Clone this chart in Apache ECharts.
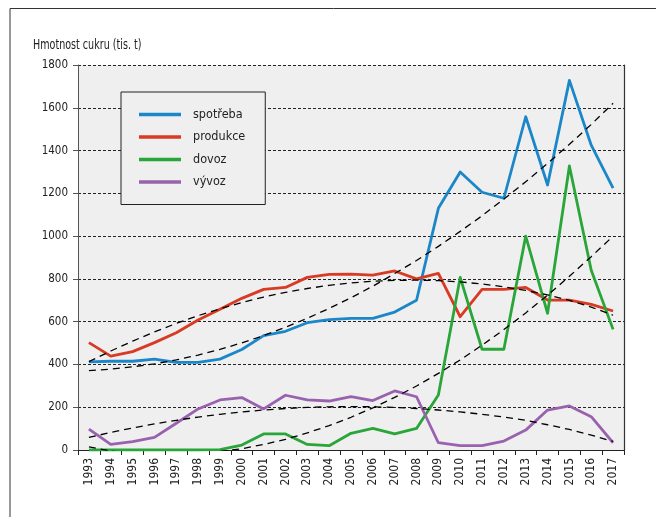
<!DOCTYPE html>
<html>
<head>
<meta charset="utf-8">
<script src="https://cdn.jsdelivr.net/npm/echarts@6/dist/echarts.min.js"></script>
<style>
html,body{margin:0;padding:0;background:#fff;}
#chart{width:656px;height:517px;}
</style>
</head>
<body>
<div id="chart"></div>
<script>
// ---- data ----
const years = ['1993','1994','1995','1996','1997','1998','1999','2000','2001','2002','2003','2004','2005','2006','2007','2008','2009','2010','2011','2012','2013','2014','2015','2016','2017'];
const yTicks = [0,200,400,600,800,1000,1200,1400,1600,1800];
const seriesNames = ['spotřeba','produkce','dovoz','vývoz'];
const spotreba = [412,415,415,425,410,410,425,470,535,555,595,610,615,615,645,700,1130,1300,1205,1177,1558,1239,1728,1425,1224];
const produkce = [502,439,460,502,548,608,658,709,751,760,807,821,822,818,837,800,826,623,751,751,760,701,701,681,650];
const dovoz = [0,0,0,0,0,0,2,23,75,75,26,20,78,101,75,101,257,807,471,471,1000,639,1328,840,564];
const vyvoz = [98,26,39,59,125,192,234,245,192,256,234,229,249,231,276,249,34,20,20,42,93,187,206,156,34];
// trend lines
const spotrebaTrend = [371,378,389,403,421,444,470,501,535,574,616,662,712,766,825,886,952,1022,1095,1173,1254,1340,1429,1522,1621];
const produkceTrend = [413,463,509,552,592,628,660,689,715,737,755,770,781,789,793,794,792,786,776,763,746,725,700,668,630];
const dovozTrend = [15,-5,-16,-21,-21,-16,-7,6,26,50,80,114,153,197,246,299,358,421,490,563,641,724,812,904,1000];
const vyvozTrend = [59,82,103,122,139,154,167,178,187,194,199,202,203,202,199,194,187,178,167,154,139,118,96,70,40];
const yTitle = 'Hmotnost cukru (tis. t)';

const colors = ['#1b87c9','#d93a23','#2aa53a','#9a62ae'];
const FONT = '"DejaVu Sans Condensed","Liberation Sans",sans-serif';

const chart = echarts.init(document.getElementById('chart'), null, {renderer:'canvas'});

function mainLine(name, data, color){
  return {name, type:'line', data, symbol:'none', z:3,
    lineStyle:{color, width:2.8, join:'round'}, itemStyle:{color}};
}
function trendLine(data){
  return {type:'line', data, symbol:'none', z:4, silent:true,
    lineStyle:{color:'#000', width:1.3, type:[7,5]}};
}

chart.setOption({
  animation:false,
  textStyle:{fontFamily:FONT},
  graphic:[
    {type:'rect', shape:{x:10, y:8.5, width:800, height:700}, style:{fill:null, stroke:'#333', lineWidth:1}, z:-10},
    {type:'text', x:33, y:38, scaleX:0.76, style:{text:yTitle, font:'14px '+FONT, fill:'#222', align:'left', verticalAlign:'top'}}
  ],
  grid:{left:78, top:65, right:32, bottom:67, show:true, backgroundColor:'#eeefee', borderWidth:0},
  legend:{
    data:seriesNames, orient:'vertical', left:121, top:92, icon:'rect',
    backgroundColor:'#eeefee', borderColor:'#222', borderWidth:1,
    padding:[15,20,15,18], itemWidth:42, itemHeight:3.5, itemGap:7.5,
    textStyle:{fontFamily:FONT, fontSize:12.5, color:'#222', padding:[0,0,0,7], lineHeight:15}
  },
  xAxis:{
    type:'category', data:years, boundaryGap:true,
    axisLine:{lineStyle:{color:'#222'}},
    axisTick:{show:true, length:5, lineStyle:{color:'#222'}},
    axisLabel:{rotate:90, fontSize:12, color:'#222', margin:8, interval:0, fontFamily:FONT},
    splitLine:{show:false}
  },
  yAxis:[{
    type:'value', min:yTicks[0], max:yTicks[yTicks.length-1], interval:200,
    axisLine:{show:true, lineStyle:{color:'#555'}},
    axisTick:{show:true, length:5, lineStyle:{color:'#555'}},
    axisLabel:{fontSize:11.5, color:'#222', margin:10, fontFamily:FONT, formatter:v=>String(v)},
    splitLine:{show:true, lineStyle:{color:'#222', type:[3,2], width:1}}
  },{
    type:'value', min:yTicks[0], max:yTicks[yTicks.length-1], interval:200, position:'right',
    axisLine:{show:true, lineStyle:{color:'#333', width:1.2}},
    axisTick:{show:false}, axisLabel:{show:false}, splitLine:{show:false}
  }],
  series:[
    mainLine(seriesNames[0], spotreba, colors[0]),
    mainLine(seriesNames[1], produkce, colors[1]),
    mainLine(seriesNames[2], dovoz, colors[2]),
    mainLine(seriesNames[3], vyvoz, colors[3]),
    trendLine(spotrebaTrend),
    trendLine(produkceTrend),
    trendLine(dovozTrend),
    trendLine(vyvozTrend)
  ]
});
</script>
</body>
</html>
